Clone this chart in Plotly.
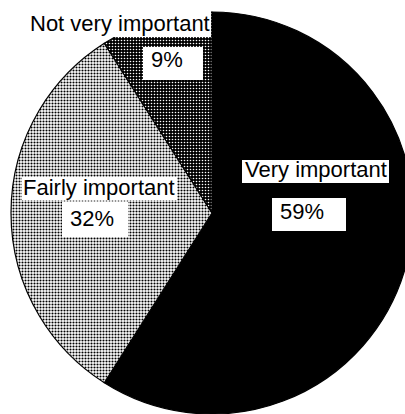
import plotly.graph_objects as go

# ---- data ----
labels = ["Very important", "Fairly important", "Not very important"]
values = [59, 32, 9]
pct_text = ["59%", "32%", "9%"]

W, H = 420, 414

def px(x):
    return x / W

def py(y):
    return 1 - y / H

fig = go.Figure()
fig.add_trace(go.Pie(
    labels=labels,
    values=values,
    sort=False,
    direction="clockwise",
    rotation=0,
    textinfo="none",
    hoverinfo="label+percent",
    showlegend=False,
    domain=dict(x=[px(11), px(413)], y=[py(414), py(12)]),
    marker=dict(
        colors=["black", "white", "black"],
        line=dict(color="black", width=1.2),
        pattern=dict(
            shape=["", ".", "."],
            fgcolor=["black", "black", "white"],
            bgcolor=["black", "white", "black"],
            size=[3, 3, 3],
            solidity=[0.3, 0.38, 0.22],
        ),
    ),
))

# white label boxes (label text, percentage)
boxes = [
    (27, 10, 211, 37),     # Not very important
    (143, 47, 203, 80),    # 9%
    (242, 160, 389, 183),  # Very important
    (272, 198, 346, 231),  # 59%
    (22, 177, 177, 200),   # Fairly important
    (62, 202, 128, 237),   # 32%
]
for x0, y0, x1, y1 in boxes:
    fig.add_shape(type="rect", xref="paper", yref="paper",
                  x0=px(x0), x1=px(x1), y0=py(y1), y1=py(y0),
                  fillcolor="white", line=dict(width=0), layer="above")

font = dict(family="Liberation Sans, Arial, sans-serif", size=22, color="black")
texts = [
    (labels[2], 119.5, 23),
    (pct_text[2], 166.5, 60),
    (labels[0], 316, 169),
    (pct_text[0], 301.5, 211),
    (labels[1], 99, 187),
    (pct_text[1], 91.5, 218),
]
for t, x, y in texts:
    fig.add_annotation(text=t, xref="paper", yref="paper", x=px(x), y=py(y),
                       xanchor="center", yanchor="middle", showarrow=False,
                       font=font)

fig.update_layout(
    width=W, height=H, autosize=False,
    margin=dict(l=0, r=0, t=0, b=0),
    paper_bgcolor="white", plot_bgcolor="white",
)

fig.write_html("out.html", config={"displayModeBar": False},
               post_script="document.body.style.margin='0';document.body.style.overflow='hidden';")
